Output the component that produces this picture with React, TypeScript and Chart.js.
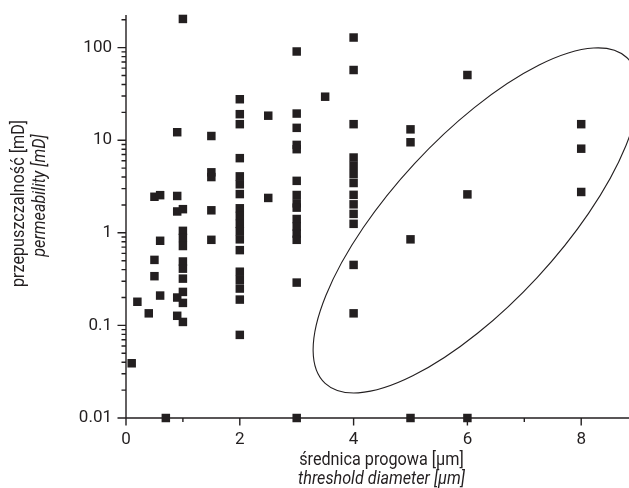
import React, { useEffect, useRef } from "react";
import { Chart, registerables } from "chart.js";

Chart.register(...registerables);

// threshold diameter columns [µm]
const DIAMETERS = [0.1, 0.2, 0.4, 0.5, 0.6, 0.7, 0.9, 1.0, 1.5, 2.0, 2.5, 3.0, 3.5, 4.0, 5.0, 6.0, 8.0];
// permeability values [mD] for each diameter column
const PERMEABILITY = [
  [0.039],
  [0.18],
  [0.135],
  [2.45, 0.51, 0.34],
  [2.55, 0.82, 0.21],
  [0.01],
  [12.2, 2.5, 1.7, 0.2, 0.127],
  [204, 1.8, 1.05, 0.88, 0.72, 0.49, 0.41, 0.32, 0.23, 0.175, 0.109],
  [11.1, 4.5, 4.0, 1.75, 0.84],
  [27.7, 19.1, 14.9, 6.4, 4.07, 3.34, 2.62, 1.84, 1.52, 1.25, 1.04, 0.85, 0.65, 0.38, 0.31, 0.25, 0.19, 0.079],
  [18.4, 2.38],
  [90.8, 19.4, 13.6, 8.9, 8.0, 3.64, 2.56, 2.08, 1.87, 1.41, 1.17, 0.98, 0.84, 0.29, 0.01],
  [29.5],
  [128.5, 57.3, 14.9, 6.5, 5.3, 4.3, 3.45, 2.57, 2.03, 1.6, 1.25, 0.45, 0.135],
  [13.1, 9.5, 0.85, 0.01],
  [50.6, 2.6, 0.01],
  [14.9, 8.1, 2.76],
];

const X_MIN = 0;
const X_MAX = 8.84;
const Y_MIN = 0.01;
const Y_MAX = 225;

const X_TICKS = [0, 2, 4, 6, 8];
const X_MINOR_TICKS = [1, 3, 5, 7];
const Y_TICKS = [0.01, 0.1, 1, 10, 100];
const Y_TICK_LABELS = ["0.01", "0.1", "1", "10", "100"];
const Y_MINOR_FACTORS = [2, 3, 4, 5, 6, 7, 8, 9];

const X_TITLE = ["średnica progowa [µm]", "threshold diameter [µm]"];
const Y_TITLE = ["przepuszczalność [mD]", "permeability [mD]"];

// ellipse (data coordinates): centre, end of major semi-axis, end of minor semi-axis
const ELLIPSE_CENTER = { x: 6.15, y: 1.36 };
const ELLIPSE_MAJOR_END = { x: 8.8, y: 78.2 };
const ELLIPSE_MINOR_END = { x: 7.23, y: 0.331 };

const INK = "#231f20";
const FONT = "Roboto, 'Liberation Sans', Arial, sans-serif";
const CONDENSE = 0.9;

function condensedText(ctx: any, text: string, x: number, y: number, font: string) {
  ctx.save();
  ctx.font = font;
  ctx.translate(x, y);
  ctx.scale(CONDENSE, 1);
  ctx.fillText(text, 0, 0);
  ctx.restore();
}

const axesPlugin = {
  id: "customAxes",
  beforeDatasetsDraw(chart: any) {
    const { ctx, chartArea } = chart;
    const xs = chart.scales.x;
    const ys = chart.scales.y;
    ctx.save();
    ctx.strokeStyle = INK;
    ctx.lineWidth = 1.4;
    ctx.beginPath();
    ctx.moveTo(chartArea.left, chartArea.top);
    ctx.lineTo(chartArea.left, chartArea.bottom);
    ctx.moveTo(chartArea.left, chartArea.bottom);
    ctx.lineTo(chartArea.right, chartArea.bottom);
    X_TICKS.forEach((v) => {
      const px = xs.getPixelForValue(v);
      ctx.moveTo(px, chartArea.bottom);
      ctx.lineTo(px, chartArea.bottom + 7.5);
    });
    X_MINOR_TICKS.forEach((v) => {
      const px = xs.getPixelForValue(v);
      ctx.moveTo(px, chartArea.bottom);
      ctx.lineTo(px, chartArea.bottom + 4);
    });
    Y_TICKS.forEach((v) => {
      const py = ys.getPixelForValue(v);
      ctx.moveTo(chartArea.left, py);
      ctx.lineTo(chartArea.left - 8.5, py);
    });
    Y_TICKS.forEach((d) => {
      Y_MINOR_FACTORS.forEach((f) => {
        const v = d * f;
        if (v > Y_MAX) return;
        const py = ys.getPixelForValue(v);
        ctx.moveTo(chartArea.left, py);
        ctx.lineTo(chartArea.left - 4.5, py);
      });
    });
    ctx.stroke();
    ctx.restore();
  },
  afterDatasetsDraw(chart: any) {
    const { ctx } = chart;
    const xs = chart.scales.x;
    const ys = chart.scales.y;
    const cx = xs.getPixelForValue(ELLIPSE_CENTER.x);
    const cy = ys.getPixelForValue(ELLIPSE_CENTER.y);
    const ux = xs.getPixelForValue(ELLIPSE_MAJOR_END.x) - cx;
    const uy = ys.getPixelForValue(ELLIPSE_MAJOR_END.y) - cy;
    const vx = xs.getPixelForValue(ELLIPSE_MINOR_END.x) - cx;
    const vy = ys.getPixelForValue(ELLIPSE_MINOR_END.y) - cy;
    const a = Math.hypot(ux, uy);
    const b = Math.hypot(vx, vy);
    const rot = Math.atan2(uy, ux);
    ctx.save();
    ctx.strokeStyle = INK;
    ctx.lineWidth = 1.1;
    ctx.beginPath();
    ctx.ellipse(cx, cy, a, b, rot, 0, Math.PI * 2);
    ctx.stroke();
    ctx.restore();
  },
  afterDraw(chart: any) {
    const { ctx, chartArea } = chart;
    ctx.save();
    ctx.fillStyle = INK;
    ctx.textAlign = "center";
    ctx.textBaseline = "middle";
    const xc = (chartArea.left + chartArea.right) / 2 + 4;
    condensedText(ctx, X_TITLE[0], xc, chartArea.bottom + 42, `18px ${FONT}`);
    condensedText(ctx, X_TITLE[1], xc, chartArea.bottom + 61, `italic 18px ${FONT}`);

    const yc = (chartArea.top + chartArea.bottom) / 2;
    ctx.save();
    ctx.translate(19, yc - 13);
    ctx.rotate(-Math.PI / 2);
    condensedText(ctx, Y_TITLE[0], 0, 0, `18px ${FONT}`);
    ctx.restore();
    ctx.save();
    ctx.translate(40, yc - 21);
    ctx.rotate(-Math.PI / 2);
    condensedText(ctx, Y_TITLE[1], 0, 0, `italic 18px ${FONT}`);
    ctx.restore();
    ctx.restore();
  },
};

export default function App() {
  const canvasRef = useRef<HTMLCanvasElement | null>(null);

  useEffect(() => {
    if (!canvasRef.current) return;
    const points: { x: number; y: number }[] = [];
    DIAMETERS.forEach((d, i) => {
      PERMEABILITY[i].forEach((p) => points.push({ x: d, y: p }));
    });

    const chart = new Chart(canvasRef.current, {
      type: "scatter",
      data: {
        datasets: [
          {
            data: points,
            pointStyle: "rect",
            pointRadius: 6,
            pointHoverRadius: 6,
            backgroundColor: INK,
            borderColor: INK,
            borderWidth: 0,
            clip: false as any,
          },
        ],
      },
      options: {
        animation: false,
        responsive: false,
        devicePixelRatio: 1,
        events: [],
        layout: { autoPadding: false, padding: { top: 15, left: 0, right: 0, bottom: 0 } },
        plugins: {
          legend: { display: false },
          tooltip: { enabled: false },
          title: { display: false },
        },
        scales: {
          x: {
            type: "linear",
            min: X_MIN,
            max: X_MAX,
            grid: { display: false, drawTicks: false },
            border: { display: false },
            afterBuildTicks: (scale: any) => {
              scale.ticks = X_TICKS.map((v) => ({ value: v }));
            },
            afterFit: (scale: any) => {
              scale.height = 70;
              scale.paddingLeft = 0;
              scale.paddingRight = 0;
            },
            ticks: {
              padding: 12,
              color: INK,
              font: { family: FONT, size: 17 },
              maxRotation: 0,
              autoSkip: false,
              callback: (v: any) => String(v),
            },
          },
          y: {
            type: "logarithmic",
            min: Y_MIN,
            max: Y_MAX,
            grid: { display: false, drawTicks: false },
            border: { display: false },
            afterBuildTicks: (scale: any) => {
              scale.ticks = Y_TICKS.map((v) => ({ value: v }));
            },
            afterFit: (scale: any) => {
              scale.width = 126;
              scale.paddingTop = 0;
              scale.paddingBottom = 0;
            },
            ticks: {
              padding: 14,
              color: INK,
              font: { family: FONT, size: 17 },
              autoSkip: false,
              callback: (v: any) => {
                const i = Y_TICKS.findIndex((t) => Math.abs(t - Number(v)) < t * 1e-6);
                return i >= 0 ? Y_TICK_LABELS[i] : "";
              },
            },
          },
        },
      },
      plugins: [axesPlugin],
    });
    return () => chart.destroy();
  }, []);

  return (
    <div style={{ position: "absolute", left: 0, top: 0, width: 629, height: 488, background: "#fff" }}>
      <canvas ref={canvasRef} width={629} height={488} style={{ display: "block" }} />
    </div>
  );
}
